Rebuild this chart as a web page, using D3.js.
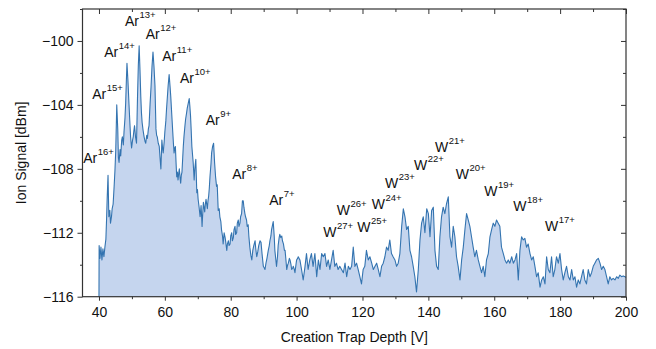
<!DOCTYPE html>
<html>
<head>
<meta charset="utf-8">
<script src="https://cdn.jsdelivr.net/npm/d3@7"></script>
<style>
  html, body { margin: 0; padding: 0; background: #fff; }
  svg { display: block; }
  text { font-family: "Liberation Sans", Arial, sans-serif; fill: #111; }
</style>
</head>
<body>
<svg id="chart" width="656" height="349"></svg>
<script>
// ---------------- data ----------------
const depth = [
  40.0, 40.05, 40.3, 40.6, 40.9, 41.2, 41.5, 41.8, 42.1, 42.3, 42.5, 42.75, 43.0, 43.3, 43.5, 43.8, 44.0, 44.3, 44.6, 44.85,
  45.1, 45.4, 45.7, 45.9, 46.1, 46.4, 46.6, 46.9, 47.1, 47.4, 47.6, 47.9, 48.1, 48.3, 48.5, 48.8, 49.1, 49.4, 49.6, 49.9,
  50.2, 50.4, 50.6, 50.8, 51.1, 51.4, 51.7, 51.95, 52.2, 52.45, 52.7, 52.9, 53.1, 53.4, 53.7, 54.0, 54.2, 54.5, 54.7, 55.0,
  55.2, 55.5, 55.8, 56.1, 56.4, 56.7, 57.0, 57.3, 57.5, 57.7, 58.0, 58.3, 58.5, 58.8, 59.1, 59.3, 59.5, 59.8, 60.0, 60.3,
  60.5, 60.8, 61.0, 61.3, 61.6, 61.8, 62.1, 62.4, 62.6, 62.8, 63.0, 63.2, 63.4, 63.6, 63.8, 64.0, 64.2, 64.4, 64.6, 64.8,
  65.0, 65.2, 65.4, 65.6, 65.8, 66.1, 66.3, 66.6, 66.8, 67.1, 67.4, 67.6, 67.8, 68.0, 68.2, 68.4, 68.6, 68.9, 69.1, 69.4,
  69.7, 69.9, 70.1, 70.4, 70.7, 71.0, 71.3, 71.5, 71.7, 71.9, 72.1, 72.3, 72.5, 72.7, 72.9, 73.1, 73.3, 73.5, 73.7, 74.0,
  74.2, 74.5, 74.8, 75.1, 75.4, 75.7, 75.9, 76.2, 76.5, 76.7, 77.0, 77.2, 77.5, 77.7, 78.0, 78.3, 78.5, 78.8, 79.0, 79.3,
  79.5, 79.8, 80.0, 80.3, 80.5, 80.8, 81.0, 81.3, 81.5, 81.8, 82.0, 82.3, 82.5, 82.8, 83.0, 83.3, 83.55, 83.8, 84.0, 84.3,
  84.5, 84.8, 85.0, 85.3, 85.5, 85.8, 86.1, 86.4, 86.7, 87.0, 87.4, 87.6, 87.9, 88.2, 88.5, 88.9, 89.2, 89.5, 89.9, 90.2,
  90.4, 90.7, 91.0, 91.4, 91.7, 91.9, 92.2, 92.4, 92.7, 92.9, 93.2, 93.4, 93.7, 93.9, 94.2, 94.4, 94.7, 94.9, 95.2, 95.5,
  95.7, 96.0, 96.3, 96.5, 96.8, 97.0, 97.3, 97.5, 97.8, 98.0, 98.3, 98.5, 98.8, 99.0, 99.3, 99.5, 99.8, 100.0, 100.3, 100.5,
  101.0, 101.5, 102.0, 102.5, 103.0, 103.5, 104.0, 104.5, 105.0, 105.55, 106.1, 106.6, 107.1, 107.6, 108.1, 108.6, 109.1, 109.6, 110.1, 110.6,
  111.1, 111.6, 112.1, 112.6, 113.1, 113.65, 114.2, 114.7, 115.2, 115.7, 116.2, 116.7, 117.2, 117.7, 118.2, 118.7, 119.2, 119.7, 120.2, 120.7,
  121.2, 121.75, 122.25, 122.8, 123.3, 123.8, 124.3, 124.8, 125.3, 125.8, 126.3, 126.8, 127.3, 127.8, 128.3, 128.8, 129.3, 129.85, 130.35, 130.85,
  131.35, 131.9, 132.4, 132.9, 133.4, 133.9, 134.4, 134.9, 135.4, 135.9, 136.4, 136.95, 137.45, 137.95, 138.45, 138.95, 139.5, 140.0, 140.5, 141.0,
  141.5, 142.0, 142.5, 143.0, 143.5, 144.0, 144.5, 145.0, 145.5, 146.05, 146.55, 147.05, 147.55, 148.05, 148.55, 149.05, 149.6, 150.1, 150.6, 151.1,
  151.6, 152.1, 152.6, 153.1, 153.6, 154.1, 154.6, 155.15, 155.65, 156.15, 156.65, 157.15, 157.65, 158.2, 158.7, 159.2, 159.7, 160.2, 160.7, 161.2,
  161.7, 162.2, 162.75, 163.25, 163.75, 164.25, 164.75, 165.3, 165.8, 166.3, 166.8, 167.3, 167.8, 168.3, 168.8, 169.3, 169.8, 170.3, 170.85, 171.35,
  171.85, 172.35, 172.85, 173.35, 173.9, 174.4, 174.9, 175.4, 175.9, 176.4, 176.9, 177.4, 177.9, 178.4, 178.9, 179.45, 179.95, 180.45, 180.95, 181.45,
  181.95, 182.5, 183.0, 183.5, 184.0, 184.5, 185.0, 185.5, 186.0, 186.5, 187.0, 187.5, 188.0, 188.55, 189.05, 189.55, 190.05, 190.55, 191.05, 191.6,
  192.1, 192.6, 193.1, 193.6, 194.1, 194.6, 195.1, 195.6, 196.1, 196.65, 197.15, 197.65, 198.15, 198.65, 199.15, 199.7, 200.0
];
const signal = [
  -116.0, -112.8, -113.6, -112.9, -113.7, -113.0, -113.5, -112.9, -112.4, -111.2, -109.8, -108.4, -111.0, -110.6, -111.4, -111.0, -110.5, -110.2, -109.1, -108.1,
  -106.8, -104.0, -105.5, -107.3, -107.6, -106.8, -107.2, -106.2, -106.0, -106.5, -105.7, -104.8, -103.9, -102.6, -101.4, -102.5, -103.9, -105.2, -106.0, -106.7,
  -106.2, -106.0, -105.6, -105.3, -106.0, -106.4, -103.5, -101.5, -100.3, -101.8, -103.5, -104.5, -105.1, -105.6, -106.0, -106.3, -106.4, -105.9, -106.1, -105.5,
  -105.3, -104.0, -102.9, -101.6, -100.7, -101.6, -102.8, -105.5, -105.9, -106.0, -106.4, -106.6, -107.2, -108.0, -106.2, -106.7, -107.0, -106.3, -105.7, -105.0,
  -104.3, -103.4, -102.8, -102.1, -102.9, -103.5, -104.6, -105.7, -106.4, -107.0, -106.7, -106.6, -107.6, -108.5, -108.2, -108.7, -108.3, -108.0, -108.5, -108.9,
  -108.4, -108.2, -107.4, -106.6, -106.0, -105.3, -104.9, -104.5, -104.2, -103.9, -103.6, -104.1, -104.7, -105.6, -106.6, -107.1, -107.6, -108.7, -108.0, -107.4,
  -109.5, -109.3, -109.9, -110.4, -111.0, -110.3, -111.6, -110.8, -110.1, -110.4, -110.7, -110.2, -109.9, -110.2, -110.5, -110.0, -109.7, -109.2, -108.5, -107.7,
  -107.0, -106.6, -106.4, -107.6, -108.5, -109.1, -109.0, -110.6, -110.5, -111.0, -111.3, -111.8, -112.2, -112.7, -112.0, -112.3, -112.6, -113.1, -112.7, -112.5,
  -112.8, -112.7, -112.2, -112.0, -112.5, -112.3, -111.8, -111.6, -112.1, -112.0, -111.4, -111.2, -111.6, -111.4, -111.0, -110.8, -110.0, -110.0, -110.4, -110.8,
  -111.0, -111.2, -111.6, -111.5, -112.2, -112.9, -113.4, -113.7, -113.1, -112.8, -112.5, -113.0, -113.5, -113.2, -112.8, -112.5, -112.6, -113.3, -114.1, -114.2,
  -114.3, -113.9, -113.6, -113.1, -112.8, -112.5, -112.2, -111.8, -111.5, -111.3, -112.2, -113.1, -113.7, -114.1, -113.5, -112.8, -112.3, -112.1, -112.3, -112.2,
  -112.5, -112.7, -113.1, -113.1, -113.8, -114.3, -114.0, -113.9, -113.6, -113.7, -114.0, -114.3, -114.2, -114.1, -114.3, -114.5, -114.0, -113.7, -113.6, -113.5,
  -113.7, -114.3, -114.95, -114.2, -113.3, -114.3, -113.7, -113.3, -114.1, -113.3, -114.75, -113.7, -114.3, -113.3, -113.5, -113.3, -114.1, -113.7, -114.3, -113.7,
  -113.1, -114.1, -113.9, -114.3, -114.1, -114.3, -114.5, -113.9, -114.75, -114.1, -114.3, -114.1, -112.9, -114.1, -113.9, -114.3, -114.75, -115.2, -114.3, -114.1,
  -113.1, -113.7, -113.5, -113.9, -114.3, -114.1, -113.9, -114.3, -114.75, -114.1, -113.9, -113.5, -112.9, -113.1, -112.45, -113.3, -113.5, -113.7, -114.1, -113.9,
  -113.3, -111.6, -110.5, -111.0, -111.8, -111.6, -113.1, -113.5, -114.1, -114.75, -115.7, -114.3, -112.45, -111.4, -111.0, -112.0, -110.5, -110.8, -112.25, -110.6,
  -110.4, -113.1, -114.1, -114.3, -112.25, -111.0, -110.4, -110.8, -110.2, -109.75, -112.25, -112.9, -111.6, -112.25, -113.5, -114.1, -114.95, -113.7, -112.9, -111.8,
  -110.8, -111.2, -111.6, -112.25, -112.9, -113.5, -113.1, -113.7, -114.1, -114.5, -114.1, -114.75, -113.7, -113.3, -112.25, -111.8, -111.4, -111.6, -111.2, -111.4,
  -111.6, -112.9, -113.3, -113.7, -113.9, -113.7, -113.9, -113.5, -113.9, -113.7, -113.3, -114.95, -113.1, -112.25, -112.45, -112.35, -112.9, -112.7, -113.3, -113.7,
  -113.5, -114.1, -114.75, -114.5, -115.4, -114.95, -114.75, -115.2, -113.5, -114.3, -114.5, -113.5, -114.75, -114.3, -113.5, -113.9, -113.3, -114.3, -114.95, -114.5,
  -114.1, -114.75, -114.95, -114.3, -114.95, -114.75, -115.4, -114.95, -115.2, -114.75, -114.3, -114.95, -115.2, -114.3, -114.75, -114.5, -114.1, -113.9, -113.7, -113.6,
  -113.9, -114.3, -114.1, -114.3, -114.75, -115.2, -114.75, -114.95, -114.85, -114.95, -114.75, -114.85, -114.65, -114.75, -114.7, -114.75, -114.8
];

const xTicks = [40, 60, 80, 100, 120, 140, 160, 180, 200];
const yTicks = [-116, -112, -108, -104, -100];

// peak annotations (anchor in data units: creation trap depth, signal)
const ionElement = ["Ar","Ar","Ar","Ar","Ar","Ar","Ar","Ar","Ar","Ar",
                    "W","W","W","W","W","W","W","W","W","W","W"];
const ionCharge  = ["16+","15+","14+","13+","12+","11+","10+","9+","8+","7+",
                    "27+","26+","25+","24+","23+","22+","21+","20+","19+","18+","17+"];
const labelDepth = [35.23, 37.97, 41.61, 47.89, 54.18, 59.22, 64.59, 72.39, 80.47, 91.7,
                    108.09, 112.16, 118.42, 122.79, 126.83, 135.63, 142.0, 148.29, 156.97, 165.78, 175.4];
const labelSignal = [-107.63, -103.66, -101.0, -99.08, -99.89, -101.27, -102.6, -105.23, -108.64, -110.27,
                     -112.25, -110.89, -111.94, -110.54, -109.23, -108.08, -106.94, -108.66, -109.71, -110.63, -111.88];

// ---------------- chart ----------------
const svg = d3.select("#chart");
const m = { left: 82.5, right: 626, top: 9, bottom: 296.7 };

const x = d3.scaleLinear().domain([35, 200]).range([m.left, m.right]);
const y = d3.scaleLinear().domain([-116, -98]).range([m.bottom, m.top]);

const pts = depth.map((d, i) => [d, signal[i]]);

const lineColor = "#3474b0";
const fillColor = "#c5d5ee";
const axisColor = "#333";

svg.append("path")
  .datum(pts)
  .attr("fill", fillColor)
  .attr("d", d3.area().x(d => x(d[0])).y0(y(-116)).y1(d => y(d[1])));

svg.append("path")
  .datum(pts)
  .attr("fill", "none")
  .attr("stroke", lineColor)
  .attr("stroke-width", 1.1)
  .attr("stroke-linejoin", "round")
  .attr("d", d3.line().x(d => x(d[0])).y(d => y(d[1])));

const xMinor = d3.range(50, 200, 20);
const yMinor = [-114, -110, -106, -102, -98];

function styleAxis(g) {
  g.select(".domain").remove();
  g.selectAll("line").attr("stroke", axisColor).attr("stroke-width", 1);
  g.selectAll("text").attr("font-size", "14px").attr("fill", "#111")
    .attr("font-family", "'Liberation Sans', Arial, sans-serif");
}

// bottom axis
svg.append("g").attr("transform", `translate(0,${m.bottom})`)
  .call(d3.axisBottom(x).tickValues(xTicks).tickSize(4).tickPadding(6).tickFormat(d3.format("d")))
  .call(styleAxis);
svg.append("g").attr("transform", `translate(0,${m.bottom})`)
  .call(d3.axisBottom(x).tickValues(xMinor).tickSize(2.5).tickFormat(""))
  .call(styleAxis);
// left axis
svg.append("g").attr("transform", `translate(${m.left},0)`)
  .call(d3.axisLeft(y).tickValues(yTicks).tickSize(5).tickPadding(4))
  .call(styleAxis);
svg.append("g").attr("transform", `translate(${m.left},0)`)
  .call(d3.axisLeft(y).tickValues(yMinor).tickSize(2.5).tickFormat(""))
  .call(styleAxis);
// top axis (inward ticks)
svg.append("g").attr("transform", `translate(0,${m.top})`)
  .call(d3.axisBottom(x).tickValues(xTicks).tickSize(5).tickFormat(""))
  .call(styleAxis);
svg.append("g").attr("transform", `translate(0,${m.top})`)
  .call(d3.axisBottom(x).tickValues(xMinor).tickSize(3).tickFormat(""))
  .call(styleAxis);
// right axis (inward ticks)
svg.append("g").attr("transform", `translate(${m.right},0)`)
  .call(d3.axisLeft(y).tickValues(yTicks).tickSize(5).tickFormat(""))
  .call(styleAxis);
svg.append("g").attr("transform", `translate(${m.right},0)`)
  .call(d3.axisLeft(y).tickValues(yMinor).tickSize(3).tickFormat(""))
  .call(styleAxis);

// frame
svg.append("rect")
  .attr("x", m.left).attr("y", m.top)
  .attr("width", m.right - m.left).attr("height", m.bottom - m.top)
  .attr("fill", "none").attr("stroke", axisColor).attr("stroke-width", 1.2);

// axis titles
svg.append("text")
  .attr("x", (m.left + m.right) / 2).attr("y", 342)
  .attr("text-anchor", "middle").attr("font-size", "14px")
  .text("Creation Trap Depth [V]");
svg.append("text")
  .attr("transform", `translate(26,${(m.top + m.bottom) / 2}) rotate(-90)`)
  .attr("text-anchor", "middle").attr("font-size", "14px")
  .text("Ion Signal [dBm]");

// annotations
ionElement.forEach((el, i) => {
  const t = svg.append("text")
    .attr("x", x(labelDepth[i])).attr("y", y(labelSignal[i]))
    .attr("font-size", "14px");
  t.append("tspan").text(el);
  t.append("tspan").attr("dx", 0.5).attr("dy", -8).attr("font-size", "9.5px").text(ionCharge[i]);
});
</script>
</body>
</html>
